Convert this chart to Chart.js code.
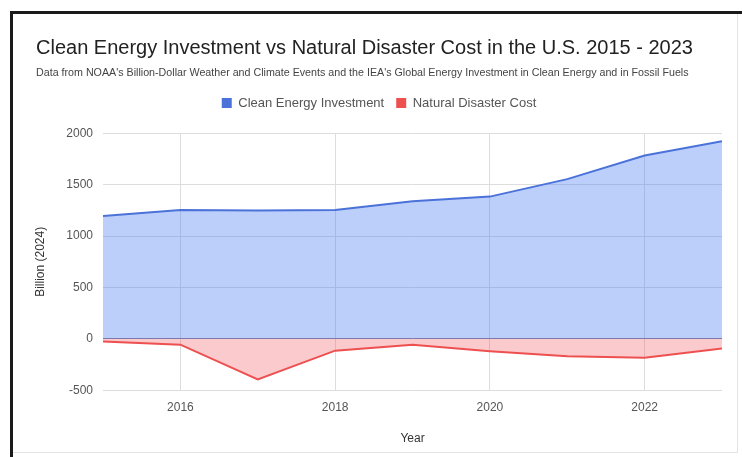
<!DOCTYPE html>
<html>
<head>
<meta charset="utf-8">
<script src="https://cdn.jsdelivr.net/npm/chart.js@4.4.1/dist/chart.umd.min.js"></script>
<style>
  html, body { margin: 0; padding: 0; background: #ffffff; }
  body { width: 742px; height: 457px; position: relative; overflow: hidden; font-family: "Liberation Sans", Arial, sans-serif; }
  #frame { position: absolute; left: 10px; top: 11px; width: 740px; height: 460px; border-left: 3px solid #1a1a1a; border-top: 3px solid #1a1a1a; }
  #card { position: absolute; left: 13px; top: 14px; width: 724px; height: 438px; border-right: 1px solid #e4e4e4; border-bottom: 1px solid #e4e4e4; }
  #wrap { position: absolute; left: 13px; top: 14px; width: 724px; height: 438px; }
</style>
</head>
<body>
<div id="frame"></div>
<div id="card"></div>
<div id="wrap"><canvas id="c" width="724" height="438"></canvas></div>
<script>
const years = [2015, 2016, 2017, 2018, 2019, 2020, 2021, 2022, 2023];
const cleanEnergyInvestment = [1195, 1255, 1250, 1255, 1340, 1385, 1555, 1785, 1925];
const naturalDisasterCost = [-25, -57, -395, -115, -57, -121, -170, -183, -95];
const xTickValues = [2016, 2018, 2020, 2022];
const yTickValues = [-500, 0, 500, 1000, 1500, 2000];

const toPoints = (vals) => years.map((yr, i) => ({ x: yr, y: vals[i] }));

const FONT = "'Liberation Sans', Arial, sans-serif";

// adds extra space below the legend
const legendGap = {
  id: 'legendGap',
  beforeUpdate(chart) {
    const lg = chart.legend;
    if (lg && !lg._gapPatched) {
      const orig = lg.fit;
      lg.fit = function () { orig.call(this); this.height += 14; };
      lg._gapPatched = true;
    }
  }
};

new Chart(document.getElementById('c'), {
  type: 'line',
  data: {
    datasets: [
      {
        label: 'Clean Energy Investment',
        data: toPoints(cleanEnergyInvestment),
        borderColor: '#4a72d9',
        backgroundColor: 'rgba(70,120,240,0.36)',
        borderWidth: 2,
        fill: 'origin',
        pointRadius: 0,
        tension: 0
      },
      {
        label: 'Natural Disaster Cost',
        data: toPoints(naturalDisasterCost),
        borderColor: '#ee5050',
        backgroundColor: 'rgba(240,80,90,0.3)',
        borderWidth: 2,
        fill: 'origin',
        pointRadius: 0,
        tension: 0
      }
    ]
  },
  plugins: [legendGap],
  options: {
    responsive: false,
    animation: false,
    devicePixelRatio: 1,
    layout: { padding: { left: 23, right: 15, top: 10, bottom: 6 } },
    plugins: {
      title: {
        display: true,
        text: 'Clean Energy Investment vs Natural Disaster Cost in the U.S. 2015 - 2023',
        align: 'start',
        color: '#222222',
        font: { family: FONT, size: 20, weight: 'normal' },
        padding: { top: 12, bottom: 0 }
      },
      subtitle: {
        display: true,
        text: "Data from NOAA's Billion-Dollar Weather and Climate Events and the IEA's Global Energy Investment in Clean Energy and in Fossil Fuels",
        align: 'start',
        color: '#444444',
        font: { family: FONT, size: 10.7, weight: 'normal' },
        padding: { top: 6.6, bottom: 5 }
      },
      legend: {
        display: true,
        position: 'top',
        align: 'center',
        labels: {
          boxWidth: 10,
          boxHeight: 10,
          color: '#555555',
          font: { family: FONT, size: 13 },
          padding: 12,
          generateLabels: (chart) => {
            const items = Chart.defaults.plugins.legend.labels.generateLabels(chart);
            items.forEach(it => { it.fillStyle = it.strokeStyle; it.lineWidth = 0; });
            return items;
          }
        }
      },
      tooltip: { enabled: false }
    },
    scales: {
      x: {
        type: 'linear',
        min: 2015,
        max: 2023,
        afterBuildTicks: (scale) => { scale.ticks = xTickValues.map(v => ({ value: v })); },
        ticks: {
          color: '#555555',
          font: { family: FONT, size: 12 },
          padding: 10,
          maxRotation: 0,
          callback: (v) => String(v)
        },
        grid: { color: '#dddddd', drawTicks: false },
        border: { display: false },
        title: {
          display: true,
          text: 'Year',
          color: '#333333',
          font: { family: FONT, size: 12 },
          padding: { top: 7, bottom: 0 }
        }
      },
      y: {
        min: -500,
        max: 2000,
        afterBuildTicks: (scale) => { scale.ticks = yTickValues.map(v => ({ value: v })); },
        afterFit: (scale) => { scale.width = 67; },
        ticks: {
          color: '#555555',
          font: { family: FONT, size: 12 },
          padding: 10,
          callback: (v) => String(v)
        },
        grid: {
          color: (ctx) => (ctx.tick && ctx.tick.value === 0) ? '#8a7f9a' : '#dddddd',
          drawTicks: false
        },
        border: { display: false },
        title: {
          display: true,
          text: 'Billion (2024)',
          color: '#333333',
          font: { family: FONT, size: 12 },
          padding: { top: -3, bottom: 0 }
        }
      }
    }
  }
});
</script>
</body>
</html>
